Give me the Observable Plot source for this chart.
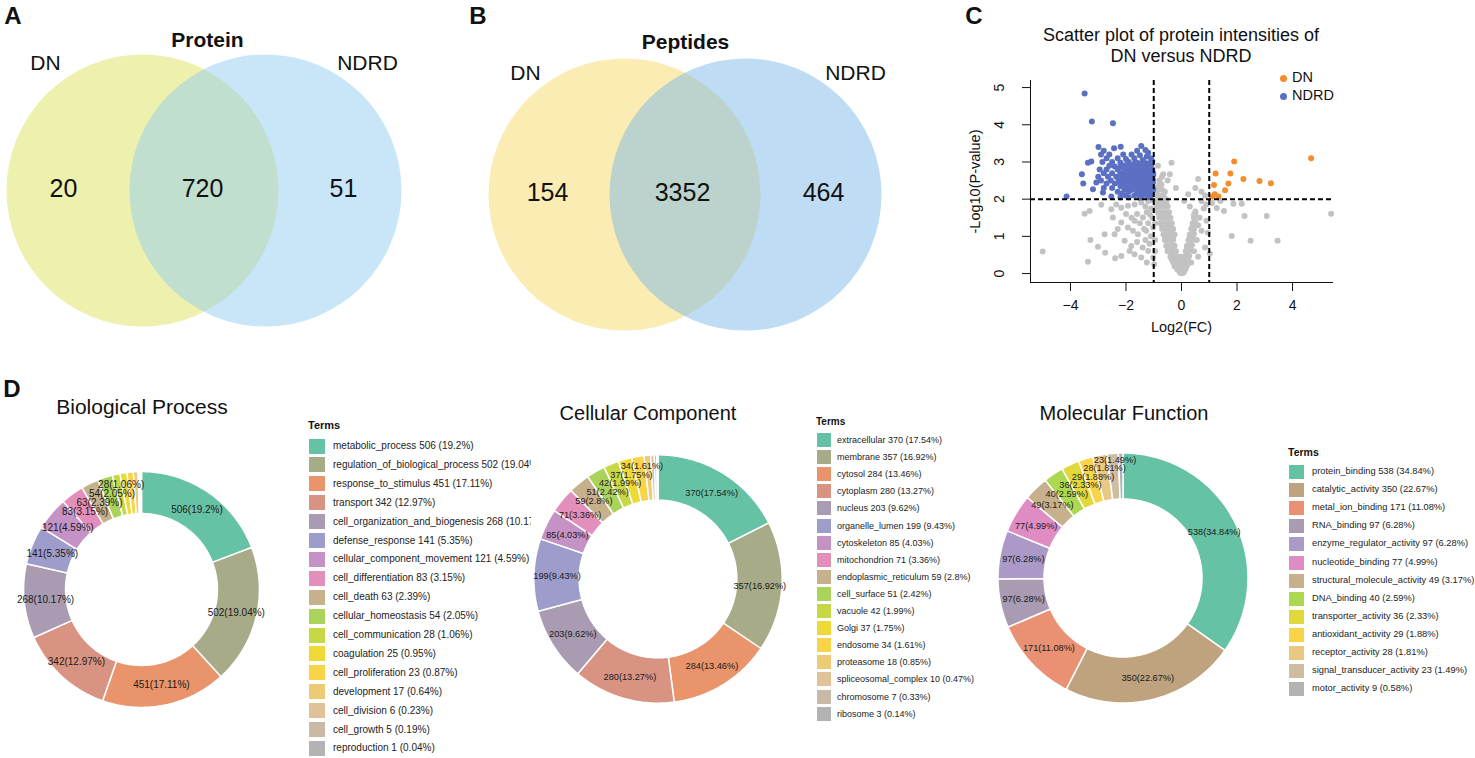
<!DOCTYPE html>
<html><head><meta charset="utf-8">
<script src="https://cdn.jsdelivr.net/npm/d3@7"></script>
<script src="https://cdn.jsdelivr.net/npm/@observablehq/plot@0.6"></script>
<style>
body{margin:0;background:#fff;font-family:"Liberation Sans",Arial,sans-serif;}
#fig{position:relative;width:1475px;height:758px;overflow:hidden;background:#fff;color:#111;}
.t{position:absolute;white-space:nowrap;line-height:1;}
.c{transform:translate(-50%,-50%);}
</style></head><body><div id="fig"></div>
<script>
// ---------------- DATA ----------------
const vennSets = ["DN", "NDRD"];
const proteinCounts = [20, 720, 51];      // DN only, both, NDRD only
const peptideCounts = [154, 3352, 464];

const volcanoLegend = ["DN", "NDRD"];
const xTicks = [-4, -2, 0, 2, 4];
const yTicks = [0, 1, 2, 3, 4, 5];
const fcCut = [-1, 1];
const pCut = [2];

// up in DN (orange)
const dnPts = [[4.67,3.10],[1.90,3.01],[1.23,2.69],[1.76,2.69],[2.23,2.54],[2.81,2.49],[3.22,2.43],[1.69,2.42],[1.57,2.24],[1.17,2.38],[1.20,2.13],[1.33,2.07],[1.11,2.07]];
// up in NDRD (blue)
const ndrdPts = [[-3.49,4.84],[-3.23,4.09],[-2.47,4.04],[-2.99,3.40],[-2.43,3.37],[-2.19,3.41],[-1.45,3.43],[-1.20,3.25],
[-2.8,3.3],[-1.6,3.3],[-1.3,3.32],
[-2.9,3.2],[-2.6,3.2],[-2.1,3.2],[-1.8,3.2],[-1.5,3.18],[-1.25,3.15],
[-2.7,3.1],[-2.3,3.1],[-2.0,3.08],[-1.7,3.1],[-1.4,3.05],[-1.1,3.1],
[-3.37,2.98],[-3.25,3.01],[-2.85,3.0],[-2.5,3.0],[-2.2,2.98],[-1.9,3.0],[-1.6,2.98],[-1.35,3.0],[-1.15,2.97],[-1.05,3.02],
[-2.6,2.9],[-2.4,2.88],[-2.1,2.9],[-1.8,2.9],[-1.55,2.88],[-1.3,2.9],[-1.1,2.88],
[-2.95,2.8],[-2.7,2.8],[-2.3,2.8],[-2.0,2.8],[-1.75,2.78],[-1.5,2.8],[-1.25,2.8],[-1.05,2.8],
[-3.59,2.67],[-2.8,2.7],[-2.5,2.7],[-2.2,2.7],[-1.9,2.7],[-1.65,2.7],[-1.4,2.7],[-1.2,2.72],[-1.02,2.7],
[-3.0,2.6],[-2.65,2.6],[-2.35,2.6],[-2.05,2.6],[-1.8,2.6],[-1.55,2.6],[-1.3,2.62],[-1.1,2.6],
[-2.9,2.5],[-2.55,2.5],[-2.25,2.5],[-1.95,2.5],[-1.7,2.5],[-1.45,2.5],[-1.2,2.5],[-1.03,2.52],
[-3.54,2.42],[-3.07,2.45],[-2.7,2.42],[-2.4,2.42],[-2.1,2.42],[-1.85,2.42],[-1.6,2.42],[-1.35,2.42],[-1.1,2.42],
[-3.19,2.27],[-2.8,2.3],[-2.5,2.3],[-2.0,2.3],[-1.75,2.3],[-1.5,2.3],[-1.25,2.3],[-1.05,2.32],
[-2.83,2.18],[-2.3,2.2],[-1.9,2.2],[-1.6,2.2],[-1.15,2.2],[-1.35,2.18],
[-4.14,2.07],[-2.53,2.07],[-2.0,2.1],[-1.7,2.1],[-1.4,2.1],[-1.1,2.1],[-2.2,2.05],[-1.5,2.04],[-1.9,2.05],[-1.2,2.05],
[-1.95,2.95],[-1.7,2.95],[-1.45,2.95],[-1.2,2.95],
[-2.2,2.85],[-1.9,2.85],[-1.65,2.85],[-1.4,2.85],[-1.15,2.85],
[-2.05,2.75],[-1.8,2.75],[-1.55,2.75],[-1.3,2.75],[-1.1,2.75],
[-2.2,2.65],[-1.95,2.65],[-1.7,2.65],[-1.45,2.65],[-1.2,2.65],[-1.02,2.65],
[-2.1,2.55],[-1.85,2.55],[-1.6,2.55],[-1.35,2.55],[-1.12,2.55],
[-2.25,2.45],[-1.95,2.45],[-1.7,2.45],[-1.5,2.45],[-1.25,2.45],[-1.03,2.45],
[-2.2,2.35],[-1.9,2.35],[-1.6,2.35],[-1.4,2.35],[-1.15,2.35],
[-2.05,2.25],[-1.8,2.25],[-1.45,2.25],[-1.02,2.25],
[-2.15,2.15],[-1.55,2.15],[-1.25,2.15]];
// not significant (grey)
const nsPts = [[-5.0,0.59],[-3.37,0.32],[-3.28,0.9],[-3.49,1.61],[-3.31,1.68],[-3.01,0.72],[-2.75,0.56],[-2.39,0.41],
[5.39,1.61],[3.46,0.88],[2.49,0.88],[1.81,1.01],[3.07,1.55],[2.27,1.55],[2.17,1.88],[1.87,1.88],[1.53,1.68],[1.27,1.76],
[1.02,0.54],[0.6,0.45],[0.9,1.42],[0.72,1.15],[0.6,2.54],[0.72,2.2],[0.24,2.13],[-0.36,2.98],[-0.42,2.67],[-0.66,2.67],
[-0.72,2.4],[0.72,1.95],[0.9,1.86],[1.1,1.9],[1.4,1.95],[0.85,2.1],[0.5,2.3],[-0.2,2.3],[-0.5,2.5],[-0.85,2.9],[-0.9,2.2],
[-2.89,1.85],[-2.53,1.73],[-2.35,1.86],[-2.17,1.77],[-1.93,1.82],[-1.69,1.86],[-1.45,1.91],[-1.20,1.95],[-2.47,1.51],
[-2.17,1.37],[-1.93,1.24],[-1.69,1.42],[-1.39,1.51],[-1.14,1.59],[-2.77,1.06],[-2.41,1.06],[-2.05,0.88],[-1.81,0.74],
[-1.57,1.06],[-1.27,1.15],[-1.02,1.24],[-1.69,0.52],[-1.45,0.43],[-1.20,0.61],[-1.02,0.43],[-2.17,0.47],[-1.87,0.61],
[-1.3,1.8],[-1.1,1.75],[-0.95,1.7],[-1.25,1.65],[-1.05,1.5],[-0.95,1.35],[-1.2,1.35],[-1.35,1.2],[-1.1,1.0],[-0.95,0.9],
[-1.3,0.9],[-1.15,0.8],[-0.95,0.6],[-1.4,0.7],[-1.6,1.6],[-1.8,1.5],[-2.0,1.6],[-1.5,1.35],[-1.75,1.15],[-2.3,1.2],
[-1.6,0.85],[-0.98,0.25],[-1.25,0.3],[-1.1,1.97],[-0.9,2.3],[-0.8,2.5],[-0.7,2.6],[-0.6,2.2],[-0.55,2.0],
[0.5,1.6],[0.6,1.3],[0.55,0.9],[0.45,0.6],[0.35,0.3],[0.85,0.7],[0.95,1.1],[0.8,1.75],[0.65,1.5],
[-0.05,0.02],[0.02,0.01],[0.08,0.03],
[-0.15,0.1],[-0.08,0.1],[0.0,0.1],[0.1,0.1],[0.15,0.12],
[-0.25,0.2],[-0.15,0.2],[-0.05,0.2],[0.05,0.2],[0.15,0.2],[0.2,0.22],
[-0.3,0.3],[-0.2,0.3],[-0.1,0.3],[0.0,0.3],[0.1,0.3],[0.2,0.3],[0.25,0.32],
[-0.4,0.45],[-0.3,0.45],[-0.2,0.45],[-0.1,0.45],[0.0,0.45],[0.1,0.45],[0.2,0.45],[0.28,0.47],
[-0.5,0.6],[-0.4,0.6],[-0.3,0.6],[-0.2,0.6],[0.15,0.6],[0.25,0.6],[0.32,0.62],
[-0.55,0.75],[-0.45,0.75],[-0.35,0.75],[-0.25,0.75],[0.2,0.75],[0.3,0.75],[0.38,0.77],
[-0.6,0.9],[-0.5,0.9],[-0.4,0.9],[-0.3,0.9],[0.25,0.9],[0.35,0.9],[0.42,0.92],
[-0.65,1.05],[-0.55,1.05],[-0.45,1.05],[-0.35,1.05],[-0.25,1.05],[0.3,1.05],[0.4,1.05],[0.45,1.07],
[-0.7,1.2],[-0.6,1.2],[-0.5,1.2],[-0.4,1.2],[-0.3,1.2],[0.35,1.2],[0.45,1.2],
[-0.75,1.35],[-0.65,1.35],[-0.55,1.35],[-0.45,1.35],[-0.35,1.35],[0.4,1.35],[0.5,1.37],
[-0.8,1.5],[-0.7,1.5],[-0.6,1.5],[-0.5,1.5],[-0.4,1.5],[0.45,1.5],
[-0.85,1.65],[-0.75,1.65],[-0.65,1.65],[-0.55,1.65],[-0.45,1.65],[0.5,1.67],
[-0.9,1.8],[-0.8,1.8],[-0.7,1.8],[-0.6,1.8],[-0.5,1.8],[0.3,1.8],
[-0.9,1.95],[-0.8,1.95],[-0.7,1.95],[-0.55,1.95],[0.1,1.95],
[-0.9,2.1],[-0.8,2.1],[-0.65,2.1],[-0.85,2.25],[-0.7,2.25],[-0.8,2.4],
[-0.35,0.38],[-0.25,0.38],[-0.15,0.38],[-0.05,0.38],[0.05,0.38],[0.15,0.38],[0.22,0.38],
[-0.5,0.68],[-0.4,0.68],[-0.3,0.68],[0.2,0.68],[0.3,0.68],
[-0.6,0.98],[-0.5,0.98],[-0.4,0.98],[-0.3,0.98],[0.3,0.98],[0.4,0.98],
[-0.7,1.28],[-0.6,1.28],[-0.5,1.28],[-0.4,1.28],[0.4,1.28],
[-0.8,1.58],[-0.7,1.58],[-0.6,1.58],[-0.5,1.58],[0.45,1.58],
[-0.85,1.88],[-0.75,1.88],[-0.65,1.88],[-0.55,1.88]];

// GO annotation
const bpTerms = ["metabolic_process","regulation_of_biological_process","response_to_stimulus","transport","cell_organization_and_biogenesis","defense_response","cellular_component_movement","cell_differentiation","cell_death","cellular_homeostasis","cell_communication","coagulation","cell_proliferation","development","cell_division","cell_growth","reproduction"];
const bpValues = [506,502,451,342,268,141,121,83,63,54,28,25,23,17,6,5,1];
const bpPcts = ["19.2","19.04","17.11","12.97","10.17","5.35","4.59","3.15","2.39","2.05","1.06","0.95","0.87","0.64","0.23","0.19","0.04"];

const ccTerms = ["extracellular","membrane","cytosol","cytoplasm","nucleus","organelle_lumen","cytoskeleton","mitochondrion","endoplasmic_reticulum","cell_surface","vacuole","Golgi","endosome","proteasome","spliceosomal_complex","chromosome","ribosome"];
const ccValues = [370,357,284,280,203,199,85,71,59,51,42,37,34,18,10,7,3];
const ccPcts = ["17.54","16.92","13.46","13.27","9.62","9.43","4.03","3.36","2.8","2.42","1.99","1.75","1.61","0.85","0.47","0.33","0.14"];

const mfTerms = ["protein_binding","catalytic_activity","metal_ion_binding","RNA_binding","enzyme_regulator_activity","nucleotide_binding","structural_molecule_activity","DNA_binding","transporter_activity","antioxidant_activity","receptor_activity","signal_transducer_activity","motor_activity"];
const mfValues = [538,350,171,97,97,77,49,40,36,29,28,23,9];
const mfPcts = ["34.84","22.67","11.08","6.28","6.28","4.99","3.17","2.59","2.33","1.88","1.81","1.49","0.58"];

// ---------------- LAYOUT ----------------
const FONT = "'Liberation Sans', Arial, sans-serif";
const fig = document.getElementById("fig");
function put(el, left, top) { el.style.position = "absolute"; el.style.left = left + "px"; el.style.top = top + "px"; fig.appendChild(el); return el; }
function txt(s, x, y, css, centered = true) {
  const d = document.createElement("div");
  d.className = "t" + (centered ? " c" : "");
  d.textContent = s;
  d.style.cssText += css || "";
  return put(d, x, y);
}

// panel letters
txt("A", 13, 16, "font-size:24px;font-weight:bold;");
txt("B", 478, 16, "font-size:24px;font-weight:bold;");
txt("C", 974, 16, "font-size:24px;font-weight:bold;");
txt("D", 12, 389, "font-size:24px;font-weight:bold;");

// ---------- Venn ----------
function venn(counts, colors, L) {
  const W = 480, H = 340;
  const circles = vennSets.map((s, i) => ({set: s, cx: L.cx[i]}));
  const regions = counts.map((c, i) => ({count: c, x: L.numX[i]}));
  return Plot.plot({
    width: W, height: H, margin: 0,
    style: {fontFamily: FONT, background: "transparent", overflow: "visible", color: "#111"},
    x: {domain: [0, W], axis: null},
    y: {domain: [0, H], range: [0, H], axis: null},
    marks: [
      Plot.dot(circles.slice(0, 1), {x: "cx", y: () => L.cy, r: L.r, fill: colors[0], fillOpacity: 0.5}),
      Plot.dot(circles.slice(1), {x: "cx", y: () => L.cy, r: L.r, fill: colors[1], fillOpacity: 0.5}),
      Plot.text(regions, {x: "x", y: () => L.numY, text: d => String(d.count), fontSize: 25, fill: "#111"}),
      Plot.text(vennSets, {x: (d, i) => L.setX[i], y: () => L.setY, text: d => d, fontSize: 21, fill: "#111"}),
      Plot.text([L.title], {x: () => L.titleX, y: () => L.titleY, text: d => d, fontSize: 21, fontWeight: "bold", fill: "#111"})
    ]
  });
}
put(venn(proteinCounts, ["#dbe35b", "#93cdf1"], {cx: [142, 265], cy: 190, r: 136, numX: [63, 202, 343], numY: 188, setX: [45, 367], setY: 63, title: "Protein", titleX: 207, titleY: 40}), 0, 0);
put(venn(peptideCounts, ["#f5d965", "#7db9e7"], {cx: [144, 265], cy: 194, r: 136, numX: [67, 202, 343], numY: 192, setX: [45, 375], setY: 73, title: "Peptides", titleX: 205, titleY: 42}), 480, 0);

// ---------- Volcano ----------
txt("Scatter plot of protein intensities of", 1181, 35, "font-size:18px;");
txt("DN versus NDRD", 1181, 56, "font-size:18px;");
const volColors = {DN: "#f58c2d", NDRD: "#5b70c2"};
const volcano = Plot.plot({
  width: 400, height: 340, marginLeft: 70, marginRight: 28, marginTop: 80, marginBottom: 58,
  style: {fontFamily: FONT, fontSize: "14px", background: "transparent", overflow: "visible", color: "#111"},
  x: {domain: [-5.44, 5.44], ticks: xTicks, tickSize: 9, tickPadding: 9, label: null, line: true},
  y: {domain: [-0.24, 5.19], ticks: yTicks, tickSize: 8, tickFormat: () => "", label: null, line: true},
  marks: [
    Plot.dot(nsPts, {x: d => d[0], y: d => d[1], r: 3, fill: "#c2c2c2"}),
    Plot.dot(ndrdPts, {x: d => d[0], y: d => d[1], r: 3, fill: volColors.NDRD}),
    Plot.dot(dnPts, {x: d => d[0], y: d => d[1], r: 3, fill: volColors.DN}),
    Plot.ruleX(fcCut, {stroke: "#000", strokeWidth: 2, strokeDasharray: "5,3"}),
    Plot.ruleY(pCut, {stroke: "#000", strokeWidth: 2, strokeDasharray: "5,3"}),
    Plot.text(yTicks, {y: d => d, frameAnchor: "left", dx: -31, rotate: -90, textAnchor: "middle", lineAnchor: "middle", text: d => String(d), fontSize: 14}),
    Plot.text(["Log2(FC)"], {frameAnchor: "bottom", dy: 45, textAnchor: "middle", lineAnchor: "middle", text: d => d, fontSize: 14.5}),
    Plot.text(["-Log10(P-value)"], {frameAnchor: "left", dx: -55, rotate: -90, textAnchor: "middle", lineAnchor: "middle", text: d => d, fontSize: 14.5})
  ]
});
put(volcano, 960, 0);
volcanoLegend.forEach((k, i) => {
  const dot = document.createElement("div");
  dot.style.cssText = `width:7px;height:7px;border-radius:50%;background:${volColors[k]};`;
  put(dot, 1279.5, 74.5 + i * 18);
  txt(k, 1292, 70 + i * 18, "font-size:14.5px;", false);
});

// ---------- GO donuts ----------
function palette(n) { return d3.quantize(d3.piecewise(d3.interpolateRgb, d3.schemeSet2), n); }
function donut(terms, values, pcts, L) {
  const colors = palette(terms.length);
  const arcs = d3.pie().sort(null).value(d => d)(values);
  const rows = [];
  arcs.forEach((a, i) => {
    const steps = Math.max(1, Math.ceil((a.endAngle - a.startAngle) / (Math.PI / 180)));
    for (let k = 0; k <= steps; k++) {
      const t = a.startAngle + (a.endAngle - a.startAngle) * k / steps;
      rows.push({term: terms[i], xi: L.inner * Math.sin(t), yi: L.inner * Math.cos(t), xo: Math.sin(t), yo: Math.cos(t)});
    }
  });
  const mid = (1 + L.inner) / 2;
  const labels = arcs.map((a, i) => {
    const t = (a.startAngle + a.endAngle) / 2;
    return {t, x: mid * Math.sin(t), y: mid * Math.cos(t), text: `${values[i]}(${pcts[i]}%)`, pct: +pcts[i]};
  }).filter(d => d.pct >= 1);
  // push crowded labels of the upper-left quadrant apart vertically
  const gap = L.labelGap / L.R;
  let prev = null;
  labels.filter(d => d.t > 1.5 * Math.PI).sort((a, b) => a.t - b.t).forEach(d => {
    if (prev !== null && d.y < prev + gap) d.y = prev + gap;
    prev = d.y;
  });
  const K = 1.2, S = Math.round(2 * K * L.R);
  const svg = Plot.plot({
    width: S, height: S, margin: 0,
    style: {fontFamily: FONT, background: "transparent", overflow: "visible"},
    x: {domain: [-K, K], axis: null},
    y: {domain: [-K, K], axis: null},
    color: {domain: terms, range: colors},
    marks: [
      Plot.area(rows, {x1: "xi", y1: "yi", x2: "xo", y2: "yo", z: "term", fill: "term", stroke: "white", strokeWidth: 1.5}),
      Plot.text(labels, {x: "x", y: "y", text: "text", fontSize: L.labelSize, fill: "#1a1a1a"})
    ]
  });
  put(svg, L.cx - S / 2, L.cy - S / 2);
  // title
  txt(L.title, L.titleX, L.titleY, `font-size:${L.titleSize}px;`);
  // legend
  const lg = document.createElement("div");
  lg.style.cssText = `width:${L.lgWidth}px;height:758px;overflow:hidden;`;
  put(lg, L.lgX, 0);
  const head = document.createElement("div");
  head.className = "t";
  head.textContent = "Terms";
  head.style.cssText += `font-size:${L.headSize}px;font-weight:bold;left:0;top:${L.headY}px;transform:translate(0,-50%);`;
  lg.appendChild(head);
  terms.forEach((term, i) => {
    const cy = L.row0 + i * L.rowH;
    const sw = document.createElement("div");
    sw.style.cssText = `position:absolute;left:${L.swX}px;top:${cy - L.swH / 2}px;width:${L.swW}px;height:${L.swH}px;background:${colors[i]};`;
    lg.appendChild(sw);
    const t = document.createElement("div");
    t.className = "t";
    t.textContent = `${term} ${values[i]} (${pcts[i]}%)`;
    t.style.cssText += `left:${L.txX}px;top:${cy}px;transform:translate(0,-50%);font-size:${L.itemSize}px;color:#222;`;
    lg.appendChild(t);
  });
}
donut(bpTerms, bpValues, bpPcts, {cx: 141.5, cy: 589, R: 118, inner: 0.644, labelSize: 10, labelGap: 9, title: "Biological Process", titleX: 142, titleY: 406, titleSize: 21,
  lgX: 308, lgWidth: 223, headY: 425, headSize: 11, row0: 446, rowH: 18.9, swX: 1, swW: 16, swH: 15, txX: 25, itemSize: 10});
donut(ccTerms, ccValues, ccPcts, {cx: 658, cy: 579, R: 124, inner: 0.635, labelSize: 9.2, labelGap: 8.5, title: "Cellular Component", titleX: 648, titleY: 413, titleSize: 20,
  lgX: 816, lgWidth: 175, headY: 422, headSize: 10, row0: 440, rowH: 17.1, swX: 1, swW: 14, swH: 14, txX: 21, itemSize: 9});
donut(mfTerms, mfValues, mfPcts, {cx: 1123, cy: 578, R: 125, inner: 0.632, labelSize: 9.2, labelGap: 8.5, title: "Molecular Function", titleX: 1124, titleY: 413, titleSize: 20,
  lgX: 1288, lgWidth: 187, headY: 452, headSize: 10.5, row0: 472, rowH: 18.1, swX: 1, swW: 15, swH: 14, txX: 24, itemSize: 9.3});
</script>
</body></html>
